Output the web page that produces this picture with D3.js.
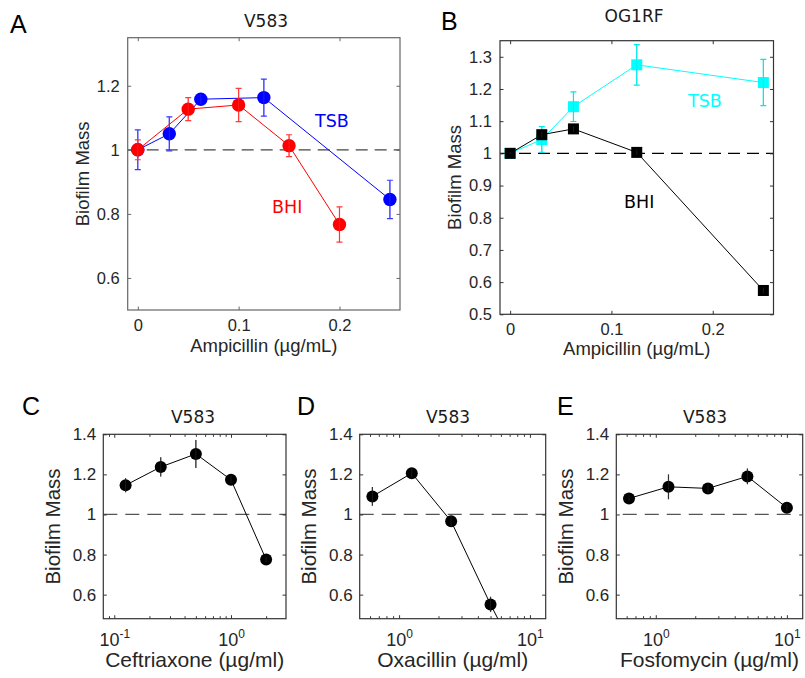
<!DOCTYPE html>
<html><head><meta charset="utf-8">
<script src="https://cdn.jsdelivr.net/npm/d3@7"></script>
<style>body{margin:0;background:#fff} svg{display:block}</style>
</head><body><svg id="c" width="805" height="678"></svg>
<script>
// ---------------- DATA ----------------
const ampA_TSB_x = [0, 0.03125, 0.0625, 0.125, 0.25];
const ampA_TSB_y = [1.00, 1.05, 1.158, 1.163, 0.845];
const ampA_TSB_e = [0.062, 0.053, 0.016, 0.058, 0.06];
const ampA_BHI_x = [0, 0.05, 0.1, 0.15, 0.2];
const ampA_BHI_y = [1.00, 1.127, 1.14, 1.013, 0.767];
const ampA_BHI_e = [0.031, 0.036, 0.052, 0.034, 0.055];

const ampB_x = [0, 0.03125, 0.0625, 0.125, 0.25];
const ampB_TSB_y = [1.00, 1.043, 1.145, 1.275, 1.22];
const ampB_TSB_e = [0.004, 0.04, 0.046, 0.063, 0.072];
const ampB_BHI_y = [1.00, 1.058, 1.076, 1.003, 0.574];
const ampB_BHI_e = [0.004, 0.01, 0.01, 0.008, 0.01];

const ceft_x = [0.125, 0.25, 0.5, 1, 2];
const ceft_y = [1.146, 1.237, 1.302, 1.173, 0.775];
const ceft_e = [0.035, 0.048, 0.07, 0.02, 0.012];

const oxa_x = [0.625, 1.25, 2.5, 5, 10];
const oxa_y = [1.09, 1.206, 0.966, 0.551, 0.17];
const oxa_e = [0.047, 0.025, 0.027, 0.038, 0.03];

const fos_x = [0.625, 1.25, 2.5, 5, 10];
const fos_y = [1.08, 1.138, 1.13, 1.19, 1.033];
const fos_e = [0.015, 0.062, 0.025, 0.039, 0.02];

const ticksA_y = [0.6, 0.8, 1, 1.2];
const ticksB_y = [0.5, 0.6, 0.7, 0.8, 0.9, 1, 1.1, 1.2, 1.3];
const ticksAmp_x = [0, 0.1, 0.2];
const ticksLow_y = [0.6, 0.8, 1, 1.2, 1.4];

// ---------------- DRAWING ----------------
const svg = d3.select("#c");
const SANS = "'Liberation Sans', Arial, Helvetica, sans-serif";
const DJV = "'DejaVu Sans', sans-serif";
const fmtY = d => (Math.abs(d - 1) < 1e-9 ? "1" : d3.format(".1f")(d));

function drawPanel(p) {
  const g = svg.append("g");
  const x = (p.log ? d3.scaleLog() : d3.scaleLinear()).domain(p.xDomain).range([p.l, p.r]);
  const y = d3.scaleLinear().domain(p.yDomain).range([p.b, p.t]);
  const cid = "clip" + p.name;
  svg.append("clipPath").attr("id", cid).append("rect")
    .attr("x", p.l).attr("y", p.t).attr("width", p.r - p.l).attr("height", p.b - p.t);

  // dashed reference line
  const dx = p.dashX ? p.dashX.map(x) : [p.l, p.r];
  g.append("line").attr("x1", dx[0]).attr("x2", dx[1]).attr("y1", y(1)).attr("y2", y(1))
    .attr("stroke", p.dashColor).attr("stroke-width", 1.2).attr("stroke-dasharray", p.dashArr);

  // axes
  const styleAx = (sel, fs) => {
    sel.attr("font-family", SANS).attr("font-size", fs);
    sel.select(".domain").remove();
    sel.selectAll(".tick line").attr("stroke", p.boxColor);
    sel.selectAll(".tick text").attr("fill", "#262626");
  };
  const xMajor = p.log ? p.xMajor : p.xTicks;
  const gb = g.append("g").attr("transform", `translate(0,${p.b})`)
    .call(d3.axisBottom(x).tickValues(xMajor).tickSize(-p.tk).tickPadding(p.xPad)
      .tickFormat(p.log ? () => "" : d => d3.format("~g")(d)));
  styleAx(gb, p.tfs);
  if (p.log) {
    gb.selectAll(".tick text").each(function (d) {
      const t = d3.select(this);
      t.text(null).attr("dy", null).attr("y", p.logLabY).attr("font-size", p.logFs);
      t.append("tspan").text("10");
      t.append("tspan").attr("dy", -8).attr("font-size", p.supFs).text(String(Math.round(Math.log10(d))));
    });
    const minors = [];
    [0.01, 0.1, 1, 10].forEach(base => { for (let k = 2; k <= 9; k++) {
      const v = base * k; if (v > p.xDomain[0] && v < p.xDomain[1]) minors.push(v); } });
    const mb = g.append("g").attr("transform", `translate(0,${p.b})`)
      .call(d3.axisBottom(x).tickValues(minors).tickSize(-2.5).tickFormat(""));
    styleAx(mb, p.tfs);
    const mt = g.append("g").attr("transform", `translate(0,${p.t})`)
      .call(d3.axisTop(x).tickValues(minors).tickSize(-2.5).tickFormat(""));
    styleAx(mt, p.tfs);
  }
  const gt = g.append("g").attr("transform", `translate(0,${p.t})`)
    .call(d3.axisTop(x).tickValues(xMajor).tickSize(-p.tk).tickFormat(""));
  styleAx(gt, p.tfs);
  const gl = g.append("g").attr("transform", `translate(${p.l},0)`)
    .call(d3.axisLeft(y).tickValues(p.yTicks).tickSize(-p.tk).tickPadding(p.yPad).tickFormat(fmtY));
  styleAx(gl, p.tfs);
  const gr = g.append("g").attr("transform", `translate(${p.r},0)`)
    .call(d3.axisRight(y).tickValues(p.yTicks).tickSize(-p.tk).tickFormat(""));
  styleAx(gr, p.tfs);

  // box
  g.append("rect").attr("x", p.l).attr("y", p.t).attr("width", p.r - p.l).attr("height", p.b - p.t)
    .attr("fill", "none").attr("stroke", p.boxColor).attr("stroke-width", 1.2);

  // series
  const pg = g.append("g").attr("clip-path", `url(#${cid})`);
  p.series.forEach(s => {
    const pts = s.x.map((xv, i) => ({ x: xv, y: s.y[i], e: s.e[i] }));
    pg.append("path").datum(pts)
      .attr("d", d3.line().x(d => x(d.x)).y(d => y(d.y)))
      .attr("fill", "none").attr("stroke", s.color).attr("stroke-width", 1);
    pts.forEach(d => {
      const cx = x(d.x), y0 = y(d.y - d.e), y1 = y(d.y + d.e);
      pg.append("line").attr("x1", cx).attr("x2", cx).attr("y1", y0).attr("y2", y1)
        .attr("stroke", s.errColor).attr("stroke-width", 1.2);
      if (s.cap) {
        [y0, y1].forEach(yy => pg.append("line").attr("x1", cx - s.cap).attr("x2", cx + s.cap)
          .attr("y1", yy).attr("y2", yy).attr("stroke", s.errColor).attr("stroke-width", 1.2));
      }
    });
    pts.forEach(d => {
      if (s.marker === "circle") {
        pg.append("circle").attr("cx", x(d.x)).attr("cy", y(d.y)).attr("r", s.size).attr("fill", s.color);
      } else {
        pg.append("rect").attr("x", x(d.x) - s.size / 2).attr("y", y(d.y) - s.size / 2)
          .attr("width", s.size).attr("height", s.size).attr("fill", s.color);
      }
    });
    pts.forEach(d => {
      const cx = x(d.x);
      pg.append("line").attr("x1", cx).attr("x2", cx).attr("y1", y(d.y - d.e)).attr("y2", y(d.y + d.e))
        .attr("stroke", s.errColor).attr("stroke-width", 1).attr("opacity", 0.5);
    });
  });

  // texts
  g.append("text").attr("x", p.titleX).attr("y", p.titleY).attr("text-anchor", "middle")
    .attr("font-family", DJV).attr("font-size", 17).attr("fill", "#1a1a1a").text(p.title);
  g.append("text").attr("x", p.letterX).attr("y", p.letterY)
    .attr("font-family", SANS).attr("font-size", 25).attr("fill", "#000").text(p.letter);
  g.append("text").attr("x", (p.l + p.r) / 2).attr("y", p.xlabY).attr("text-anchor", "middle")
    .attr("font-family", SANS).attr("font-size", p.lfsX).attr("fill", "#262626").text(p.xlabel);
  g.append("text").attr("transform", `translate(${p.ylabX},${(p.t + p.b) / 2}) rotate(-90)`)
    .attr("text-anchor", "middle").attr("font-family", SANS).attr("font-size", p.lfsY)
    .attr("fill", "#262626").text("Biofilm Mass");
  (p.notes || []).forEach(n => g.append("text").attr("x", n.x).attr("y", n.y)
    .attr("font-family", DJV).attr("font-size", 17.5).attr("fill", n.color).text(n.text));
}

drawPanel({
  name: "A", l: 127.7, r: 400, t: 37.7, b: 310, xDomain: [-0.01, 0.26], yDomain: [0.5, 1.35],
  xTicks: ticksAmp_x, yTicks: ticksA_y, tk: 3.5, xPad: 9, yPad: 8, tfs: 16.5,
  boxColor: "#666", dashColor: "#444", dashArr: "12,7",
  series: [
    { x: ampA_TSB_x, y: ampA_TSB_y, e: ampA_TSB_e, color: "#0000ff", errColor: "#3a3aff", marker: "circle", size: 6.7, cap: 3 },
    { x: ampA_BHI_x, y: ampA_BHI_y, e: ampA_BHI_e, color: "#ff0000", errColor: "#ff3a3a", marker: "circle", size: 6.7, cap: 3 }
  ],
  title: "V583", titleX: 266, titleY: 26.7, letter: "A", letterX: 10, letterY: 33,
  xlabel: "Ampicillin (µg/mL)", xlabY: 352, lfsX: 18.5, ylabX: 88.6, lfsY: 18.5,
  notes: [{ text: "TSB", x: 315, y: 126.7, color: "#0000ff" }, { text: "BHI", x: 272, y: 213.3, color: "#ff0000" }]
});

drawPanel({
  name: "B", l: 500, r: 773.5, t: 40.7, b: 314.3, xDomain: [-0.01, 0.26], yDomain: [0.5, 1.35],
  xTicks: ticksAmp_x, yTicks: ticksB_y, tk: 3.5, xPad: 8.5, yPad: 8, tfs: 16.5,
  boxColor: "#333", dashColor: "#000", dashArr: "12,7",
  series: [
    { x: ampB_x, y: ampB_TSB_y, e: ampB_TSB_e, color: "#00ffff", errColor: "#00e8e8", marker: "square", size: 11, cap: 3 },
    { x: ampB_x, y: ampB_BHI_y, e: ampB_BHI_e, color: "#000000", errColor: "#333", marker: "square", size: 11, cap: 3 }
  ],
  title: "OG1RF", titleX: 634, titleY: 21.7, letter: "B", letterX: 441, letterY: 30,
  xlabel: "Ampicillin (µg/mL)", xlabY: 355, lfsX: 18.5, ylabX: 460.6, lfsY: 18.5,
  notes: [{ text: "TSB", x: 688, y: 106.7, color: "#00ffff" }, { text: "BHI", x: 624, y: 208.3, color: "#000" }]
});

const lower = [
  { name: "C", l: 103.3, r: 286, x: ceft_x, y: ceft_y, e: ceft_e, xDomain: [0.0805, 2.96], xMajor: [0.1, 1],
    letterX: 22, titleX: 193, xlabel: "Ceftriaxone (µg/ml)", ylabX: 59.8, dashX: null },
  { name: "D", l: 359.7, r: 545.7, x: oxa_x, y: oxa_y, e: oxa_e, xDomain: [0.5, 13.2], xMajor: [1, 10],
    letterX: 297, titleX: 448, xlabel: "Oxacillin (µg/ml)", ylabX: 316, dashX: null },
  { name: "E", l: 616.3, r: 802.7, x: fos_x, y: fos_y, e: fos_e, xDomain: [0.5, 13.2], xMajor: [1, 10],
    letterX: 557, titleX: 705, xlabel: "Fosfomycin (µg/ml)", ylabX: 572.8, dashX: [0.56, 11] }
];
lower.forEach(c => drawPanel({
  name: c.name, l: c.l, r: c.r, t: 434.3, b: 618.7, log: true, xDomain: c.xDomain, xMajor: c.xMajor,
  yDomain: [0.48, 1.4], yTicks: ticksLow_y, tk: 3.5, xPad: 8, yPad: 7, tfs: 17,
  logLabY: 27, logFs: 18, supFs: 12,
  boxColor: "#333", dashColor: "#555", dashArr: "14,8", dashX: c.dashX,
  series: [{ x: c.x, y: c.y, e: c.e, color: "#000", errColor: "#333", marker: "circle", size: 6, cap: 0 }],
  title: "V583", titleX: c.titleX, titleY: 423, letter: c.name, letterX: c.letterX, letterY: 415,
  xlabel: c.xlabel, xlabY: 667, lfsX: 21, ylabX: c.ylabX, lfsY: 20.5
}));
</script></body></html>
